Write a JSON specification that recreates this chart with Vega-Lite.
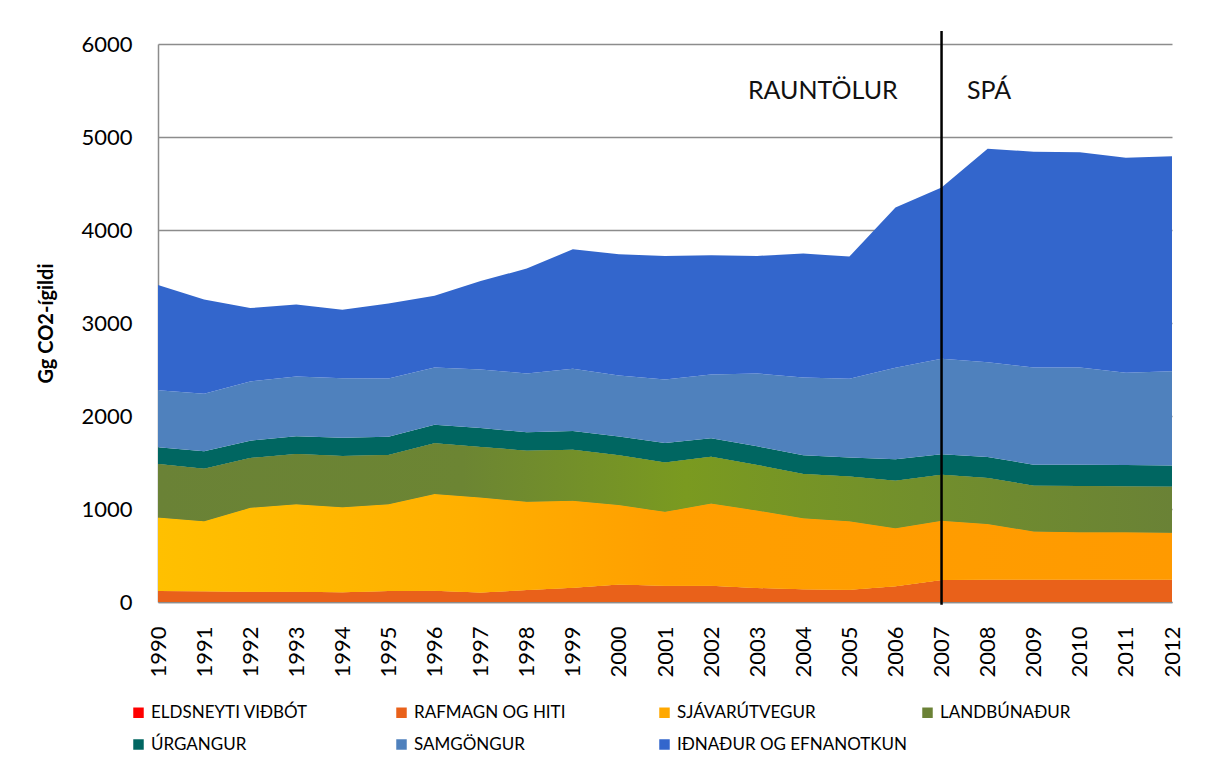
{
  "$schema": "https://vega.github.io/schema/vega-lite/v6.json",
  "width": 1014,
  "height": 558,
  "autosize": {"type": "none"},
  "padding": {"left": 158, "top": 44, "right": 43, "bottom": 172},
  "background": "white",
  "config": {
    "view": {"stroke": null},
    "font": "Lato",
    "axis": {"labelFont": "Lato", "titleFont": "Lato", "labelColor": "#000000", "titleColor": "#000000"},
    "legend": {"labelFont": "Lato"}
  },
  "datasets": {
    "emissions": [
      {"year":1990,"sector":"ELDSNEYTI VIÐBÓT","value":0},{"year":1990,"sector":"RAFMAGN OG HITI","value":118},{"year":1990,"sector":"SJÁVARÚTVEGUR","value":790},{"year":1990,"sector":"LANDBÚNAÐUR","value":575},{"year":1990,"sector":"ÚRGANGUR","value":180},{"year":1990,"sector":"SAMGÖNGUR","value":614},{"year":1990,"sector":"IÐNAÐUR OG EFNANOTKUN","value":1131},
      {"year":1991,"sector":"ELDSNEYTI VIÐBÓT","value":0},{"year":1991,"sector":"RAFMAGN OG HITI","value":115},{"year":1991,"sector":"SJÁVARÚTVEGUR","value":754},{"year":1991,"sector":"LANDBÚNAÐUR","value":564},{"year":1991,"sector":"ÚRGANGUR","value":187},{"year":1991,"sector":"SAMGÖNGUR","value":618},{"year":1991,"sector":"IÐNAÐUR OG EFNANOTKUN","value":1016},
      {"year":1992,"sector":"ELDSNEYTI VIÐBÓT","value":0},{"year":1992,"sector":"RAFMAGN OG HITI","value":111},{"year":1992,"sector":"SJÁVARÚTVEGUR","value":902},{"year":1992,"sector":"LANDBÚNAÐUR","value":535},{"year":1992,"sector":"ÚRGANGUR","value":187},{"year":1992,"sector":"SAMGÖNGUR","value":636},{"year":1992,"sector":"IÐNAÐUR OG EFNANOTKUN","value":789},
      {"year":1993,"sector":"ELDSNEYTI VIÐBÓT","value":0},{"year":1993,"sector":"RAFMAGN OG HITI","value":111},{"year":1993,"sector":"SJÁVARÚTVEGUR","value":941},{"year":1993,"sector":"LANDBÚNAÐUR","value":539},{"year":1993,"sector":"ÚRGANGUR","value":191},{"year":1993,"sector":"SAMGÖNGUR","value":643},{"year":1993,"sector":"IÐNAÐUR OG EFNANOTKUN","value":775},
      {"year":1994,"sector":"ELDSNEYTI VIÐBÓT","value":0},{"year":1994,"sector":"RAFMAGN OG HITI","value":104},{"year":1994,"sector":"SJÁVARÚTVEGUR","value":916},{"year":1994,"sector":"LANDBÚNAÐUR","value":549},{"year":1994,"sector":"ÚRGANGUR","value":198},{"year":1994,"sector":"SAMGÖNGUR","value":639},{"year":1994,"sector":"IÐNAÐUR OG EFNANOTKUN","value":737},
      {"year":1995,"sector":"ELDSNEYTI VIÐBÓT","value":0},{"year":1995,"sector":"RAFMAGN OG HITI","value":118},{"year":1995,"sector":"SJÁVARÚTVEGUR","value":934},{"year":1995,"sector":"LANDBÚNAÐUR","value":528},{"year":1995,"sector":"ÚRGANGUR","value":198},{"year":1995,"sector":"SAMGÖNGUR","value":625},{"year":1995,"sector":"IÐNAÐUR OG EFNANOTKUN","value":808},
      {"year":1996,"sector":"ELDSNEYTI VIÐBÓT","value":0},{"year":1996,"sector":"RAFMAGN OG HITI","value":121},{"year":1996,"sector":"SJÁVARÚTVEGUR","value":1039},{"year":1996,"sector":"LANDBÚNAÐUR","value":546},{"year":1996,"sector":"ÚRGANGUR","value":201},{"year":1996,"sector":"SAMGÖNGUR","value":615},{"year":1996,"sector":"IÐNAÐUR OG EFNANOTKUN","value":772},
      {"year":1997,"sector":"ELDSNEYTI VIÐBÓT","value":0},{"year":1997,"sector":"RAFMAGN OG HITI","value":101},{"year":1997,"sector":"SJÁVARÚTVEGUR","value":1023},{"year":1997,"sector":"LANDBÚNAÐUR","value":543},{"year":1997,"sector":"ÚRGANGUR","value":204},{"year":1997,"sector":"SAMGÖNGUR","value":629},{"year":1997,"sector":"IÐNAÐUR OG EFNANOTKUN","value":951},
      {"year":1998,"sector":"ELDSNEYTI VIÐBÓT","value":0},{"year":1998,"sector":"RAFMAGN OG HITI","value":129},{"year":1998,"sector":"SJÁVARÚTVEGUR","value":949},{"year":1998,"sector":"LANDBÚNAÐUR","value":549},{"year":1998,"sector":"ÚRGANGUR","value":198},{"year":1998,"sector":"SAMGÖNGUR","value":632},{"year":1998,"sector":"IÐNAÐUR OG EFNANOTKUN","value":1128},
      {"year":1999,"sector":"ELDSNEYTI VIÐBÓT","value":0},{"year":1999,"sector":"RAFMAGN OG HITI","value":154},{"year":1999,"sector":"SJÁVARÚTVEGUR","value":934},{"year":1999,"sector":"LANDBÚNAÐUR","value":550},{"year":1999,"sector":"ÚRGANGUR","value":201},{"year":1999,"sector":"SAMGÖNGUR","value":669},{"year":1999,"sector":"IÐNAÐUR OG EFNANOTKUN","value":1285},
      {"year":2000,"sector":"ELDSNEYTI VIÐBÓT","value":0},{"year":2000,"sector":"RAFMAGN OG HITI","value":188},{"year":2000,"sector":"SJÁVARÚTVEGUR","value":855},{"year":2000,"sector":"LANDBÚNAÐUR","value":534},{"year":2000,"sector":"ÚRGANGUR","value":202},{"year":2000,"sector":"SAMGÖNGUR","value":656},{"year":2000,"sector":"IÐNAÐUR OG EFNANOTKUN","value":1304},
      {"year":2001,"sector":"ELDSNEYTI VIÐBÓT","value":0},{"year":2001,"sector":"RAFMAGN OG HITI","value":176},{"year":2001,"sector":"SJÁVARÚTVEGUR","value":794},{"year":2001,"sector":"LANDBÚNAÐUR","value":531},{"year":2001,"sector":"ÚRGANGUR","value":209},{"year":2001,"sector":"SAMGÖNGUR","value":682},{"year":2001,"sector":"IÐNAÐUR OG EFNANOTKUN","value":1329},
      {"year":2002,"sector":"ELDSNEYTI VIÐBÓT","value":0},{"year":2002,"sector":"RAFMAGN OG HITI","value":176},{"year":2002,"sector":"SJÁVARÚTVEGUR","value":884},{"year":2002,"sector":"LANDBÚNAÐUR","value":502},{"year":2002,"sector":"ÚRGANGUR","value":198},{"year":2002,"sector":"SAMGÖNGUR","value":686},{"year":2002,"sector":"IÐNAÐUR OG EFNANOTKUN","value":1282},
      {"year":2003,"sector":"ELDSNEYTI VIÐBÓT","value":0},{"year":2003,"sector":"RAFMAGN OG HITI","value":151},{"year":2003,"sector":"SJÁVARÚTVEGUR","value":833},{"year":2003,"sector":"LANDBÚNAÐUR","value":489},{"year":2003,"sector":"ÚRGANGUR","value":201},{"year":2003,"sector":"SAMGÖNGUR","value":783},{"year":2003,"sector":"IÐNAÐUR OG EFNANOTKUN","value":1264},
      {"year":2004,"sector":"ELDSNEYTI VIÐBÓT","value":0},{"year":2004,"sector":"RAFMAGN OG HITI","value":136},{"year":2004,"sector":"SJÁVARÚTVEGUR","value":765},{"year":2004,"sector":"LANDBÚNAÐUR","value":475},{"year":2004,"sector":"ÚRGANGUR","value":201},{"year":2004,"sector":"SAMGÖNGUR","value":837},{"year":2004,"sector":"IÐNAÐUR OG EFNANOTKUN","value":1332},
      {"year":2005,"sector":"ELDSNEYTI VIÐBÓT","value":0},{"year":2005,"sector":"RAFMAGN OG HITI","value":133},{"year":2005,"sector":"SJÁVARÚTVEGUR","value":736},{"year":2005,"sector":"LANDBÚNAÐUR","value":481},{"year":2005,"sector":"ÚRGANGUR","value":205},{"year":2005,"sector":"SAMGÖNGUR","value":845},{"year":2005,"sector":"IÐNAÐUR OG EFNANOTKUN","value":1314},
      {"year":2006,"sector":"ELDSNEYTI VIÐBÓT","value":0},{"year":2006,"sector":"RAFMAGN OG HITI","value":169},{"year":2006,"sector":"SJÁVARÚTVEGUR","value":625},{"year":2006,"sector":"LANDBÚNAÐUR","value":510},{"year":2006,"sector":"ÚRGANGUR","value":230},{"year":2006,"sector":"SAMGÖNGUR","value":984},{"year":2006,"sector":"IÐNAÐUR OG EFNANOTKUN","value":1723},
      {"year":2007,"sector":"ELDSNEYTI VIÐBÓT","value":0},{"year":2007,"sector":"RAFMAGN OG HITI","value":237},{"year":2007,"sector":"SJÁVARÚTVEGUR","value":636},{"year":2007,"sector":"LANDBÚNAÐUR","value":496},{"year":2007,"sector":"ÚRGANGUR","value":219},{"year":2007,"sector":"SAMGÖNGUR","value":1027},{"year":2007,"sector":"IÐNAÐUR OG EFNANOTKUN","value":1842},
      {"year":2008,"sector":"ELDSNEYTI VIÐBÓT","value":0},{"year":2008,"sector":"RAFMAGN OG HITI","value":241},{"year":2008,"sector":"SJÁVARÚTVEGUR","value":599},{"year":2008,"sector":"LANDBÚNAÐUR","value":493},{"year":2008,"sector":"ÚRGANGUR","value":226},{"year":2008,"sector":"SAMGÖNGUR","value":1020},{"year":2008,"sector":"IÐNAÐUR OG EFNANOTKUN","value":2295},
      {"year":2009,"sector":"ELDSNEYTI VIÐBÓT","value":0},{"year":2009,"sector":"RAFMAGN OG HITI","value":241},{"year":2009,"sector":"SJÁVARÚTVEGUR","value":517},{"year":2009,"sector":"LANDBÚNAÐUR","value":492},{"year":2009,"sector":"ÚRGANGUR","value":226},{"year":2009,"sector":"SAMGÖNGUR","value":1046},{"year":2009,"sector":"IÐNAÐUR OG EFNANOTKUN","value":2320},
      {"year":2010,"sector":"ELDSNEYTI VIÐBÓT","value":0},{"year":2010,"sector":"RAFMAGN OG HITI","value":241},{"year":2010,"sector":"SJÁVARÚTVEGUR","value":510},{"year":2010,"sector":"LANDBÚNAÐUR","value":495},{"year":2010,"sector":"ÚRGANGUR","value":230},{"year":2010,"sector":"SAMGÖNGUR","value":1046},{"year":2010,"sector":"IÐNAÐUR OG EFNANOTKUN","value":2313},
      {"year":2011,"sector":"ELDSNEYTI VIÐBÓT","value":0},{"year":2011,"sector":"RAFMAGN OG HITI","value":241},{"year":2011,"sector":"SJÁVARÚTVEGUR","value":510},{"year":2011,"sector":"LANDBÚNAÐUR","value":492},{"year":2011,"sector":"ÚRGANGUR","value":230},{"year":2011,"sector":"SAMGÖNGUR","value":991},{"year":2011,"sector":"IÐNAÐUR OG EFNANOTKUN","value":2313},
      {"year":2012,"sector":"ELDSNEYTI VIÐBÓT","value":0},{"year":2012,"sector":"RAFMAGN OG HITI","value":241},{"year":2012,"sector":"SJÁVARÚTVEGUR","value":503},{"year":2012,"sector":"LANDBÚNAÐUR","value":495},{"year":2012,"sector":"ÚRGANGUR","value":230},{"year":2012,"sector":"SAMGÖNGUR","value":1013},{"year":2012,"sector":"IÐNAÐUR OG EFNANOTKUN","value":2310}
    ]
  },
  "layer": [
    {
      "data": {"name": "emissions"},
      "transform": [
        {"calculate": "indexof(['ELDSNEYTI VIÐBÓT','RAFMAGN OG HITI','SJÁVARÚTVEGUR','LANDBÚNAÐUR','ÚRGANGUR','SAMGÖNGUR','IÐNAÐUR OG EFNANOTKUN'], datum.sector)", "as": "k"},
        {"stack": "value", "groupby": ["year"], "sort": [{"field": "k", "order": "ascending"}], "as": ["y0", "y1"]}
      ],
      "layer": [
        {
          "mark": {"type": "area", "interpolate": "linear"},
          "encoding": {
            "x": {"field": "year", "type": "quantitative", "title": null,
              "scale": {"domain": [1990, 2012], "nice": false, "zero": false},
              "axis": {"values": [1990,1991,1992,1993,1994,1995,1996,1997,1998,1999,2000,2001,2002,2003,2004,2005,2006,2007,2008,2009,2010,2011,2012],
                "format": "d", "labelAngle": -90, "labelFontSize": 22, "ticks": false, "grid": false,
                "domainColor": "#8c8c8c", "domainWidth": 1.5, "labelPadding": 24, "labelOverlap": false}},
            "y": {"field": "y0", "type": "quantitative", "title": "Gg CO2-ígildi",
              "scale": {"domain": [0, 6000], "nice": false},
              "axis": {"values": [0,1000,2000,3000,4000,5000,6000], "format": "d", "grid": true, "gridColor": "#8c8c8c", "gridWidth": 1.5,
                "ticks": false, "domainColor": "#8c8c8c", "domainWidth": 1.5, "labelFontSize": 22, "labelPadding": 26,
                "titleFontSize": 20, "titleFontWeight": "bold", "titlePadding": 24}},
            "y2": {"field": "y1"},
            "color": {"field": "sector", "type": "nominal",
              "scale": {"domain": ["ELDSNEYTI VIÐBÓT","RAFMAGN OG HITI","SJÁVARÚTVEGUR","LANDBÚNAÐUR","ÚRGANGUR","SAMGÖNGUR","IÐNAÐUR OG EFNANOTKUN"],
                "range": ["#FF0000","#E9611A","#FFA800","#6B8236","#006661","#4F81BD","#3366CC"]},
              "legend": {"title": null, "orient": "none", "legendX": -28, "legendY": 660, "direction": "horizontal", "columns": 4,
                "gridAlign": "all", "columnPadding": 11, "rowPadding": 14, "symbolType": "square", "symbolSize": 110,
                "symbolStrokeWidth": 0, "labelFontSize": 17, "labelOffset": 4, "labelLimit": 400, "labelColor": "#000000"}},
            "order": {"field": "k"}
          }
        },
        {
          "transform": [{"filter": "datum.sector === 'SJÁVARÚTVEGUR'"}],
          "mark": {"type": "area", "interpolate": "linear",
            "fill": {"gradient": "linear", "x1": 0, "y1": 0, "x2": 1, "y2": 0,
              "stops": [{"offset": 0, "color": "#FFC000"}, {"offset": 0.3, "color": "#FFB000"}, {"offset": 0.5, "color": "#FF9F00"}, {"offset": 1, "color": "#FF9A00"}]}},
          "encoding": {
            "x": {"field": "year", "type": "quantitative", "title": null},
            "y": {"field": "y0", "type": "quantitative", "title": "Gg CO2-ígildi"},
            "y2": {"field": "y1"}
          }
        },
        {
          "transform": [{"filter": "datum.sector === 'LANDBÚNAÐUR'"}],
          "mark": {"type": "area", "interpolate": "linear",
            "fill": {"gradient": "linear", "x1": 0, "y1": 0, "x2": 1, "y2": 0,
              "stops": [{"offset": 0, "color": "#6A8236"}, {"offset": 0.3, "color": "#6C8533"}, {"offset": 0.52, "color": "#7A9A20"}, {"offset": 0.75, "color": "#728F2C"}, {"offset": 1, "color": "#6A8236"}]}},
          "encoding": {
            "x": {"field": "year", "type": "quantitative", "title": null},
            "y": {"field": "y0", "type": "quantitative", "title": "Gg CO2-ígildi"},
            "y2": {"field": "y1"}
          }
        }
      ]
    },
    {
      "data": {"values": [{}]},
      "mark": {"type": "rule", "color": "#000000", "strokeWidth": 2.5, "clip": false},
      "encoding": {
        "x": {"datum": 2007, "type": "quantitative"},
        "y": {"datum": -30, "type": "quantitative"},
        "y2": {"datum": 6140}
      }
    },
    {
      "data": {"values": [{}]},
      "mark": {"type": "text", "align": "right", "baseline": "middle", "fontSize": 25, "font": "Lato", "color": "#111111"},
      "encoding": {
        "x": {"datum": 2006.05, "type": "quantitative"},
        "y": {"datum": 5500, "type": "quantitative"},
        "text": {"value": "RAUNTÖLUR"}
      }
    },
    {
      "data": {"values": [{}]},
      "mark": {"type": "text", "align": "left", "baseline": "middle", "fontSize": 25, "font": "Lato", "color": "#111111"},
      "encoding": {
        "x": {"datum": 2007.55, "type": "quantitative"},
        "y": {"datum": 5500, "type": "quantitative"},
        "text": {"value": "SPÁ"}
      }
    }
  ]
}
